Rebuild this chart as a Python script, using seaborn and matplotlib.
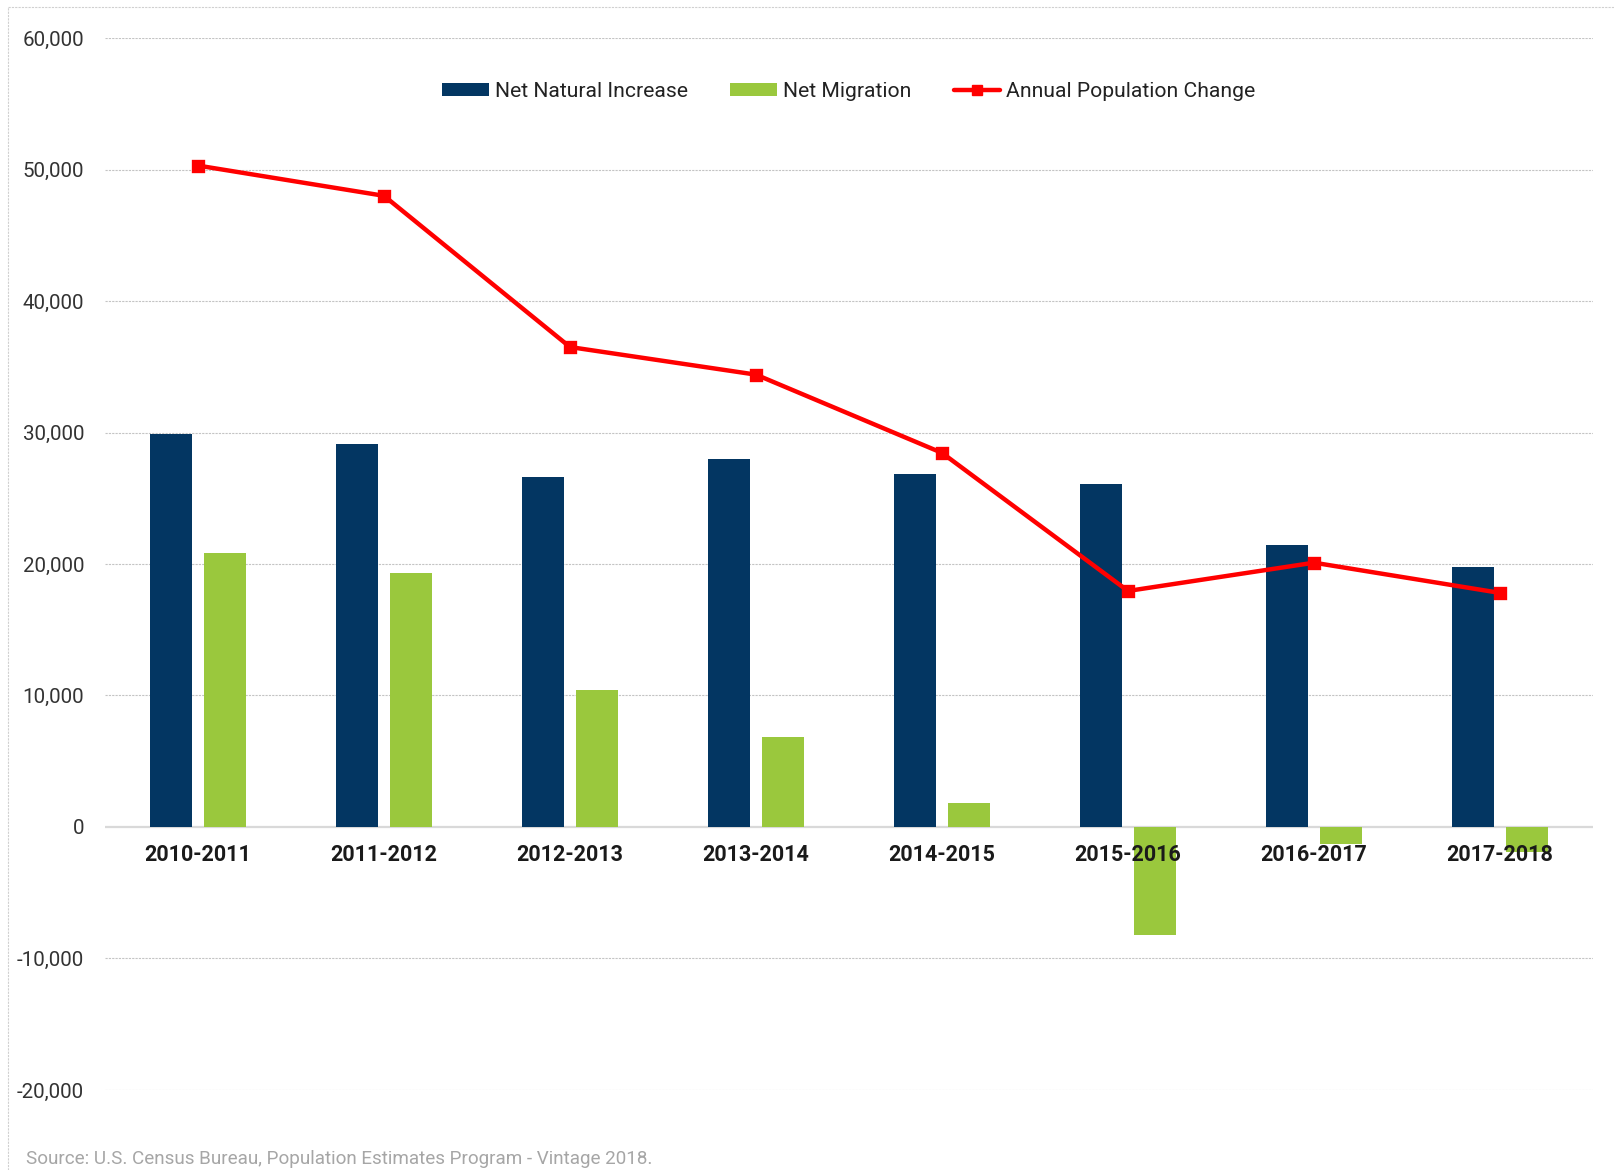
import matplotlib
matplotlib.use("Agg")
import matplotlib.pyplot as plt
from matplotlib.lines import Line2D
from matplotlib.patches import Patch
from matplotlib.ticker import FuncFormatter, MultipleLocator
import seaborn as sns
import pandas as pd

periods = ["2010-2011", "2011-2012", "2012-2013", "2013-2014",
           "2014-2015", "2015-2016", "2016-2017", "2017-2018"]
net_natural_increase = [29900, 29150, 26650, 27950, 26850, 26100, 21450, 19750]
net_migration = [20800, 19350, 10450, 6850, 1850, -8200, -1320, -1900]
annual_change = [50300, 48000, 36500, 34400, 28450, 17950, 20100, 17800]
series_names = ["Net Natural Increase", "Net Migration", "Annual Population Change"]
source_text = "Source: U.S. Census Bureau, Population Estimates Program - Vintage 2018."

NAVY = "#033662"
GREEN = "#9ac83d"
RED = "#ff0000"

sns.set_theme(style="white")
plt.rcParams["font.family"] = ["Roboto", "DejaVu Sans"]

bars = pd.DataFrame({
    "period": periods * 2,
    "value": net_natural_increase + net_migration,
    "series": [series_names[0]] * len(periods) + [series_names[1]] * len(periods),
})
line = pd.DataFrame({"period": periods, "value": annual_change})

fig = plt.figure(figsize=(16.15, 11.70), dpi=100)
ax = fig.add_axes([0.065, 0.0684, 0.9214, 0.8991])

sns.barplot(data=bars, x="period", y="value", hue="series", order=periods,
            hue_order=series_names[:2], palette=[NAVY, GREEN], saturation=1,
            width=0.576, gap=0.21, errorbar=None, legend=False, linewidth=0,
            ax=ax, zorder=1)
sns.pointplot(data=line, x="period", y="value", order=periods, color=RED,
              markers="s", linestyles="-", errorbar=None, markersize=7.5,
              linewidth=3.2, ax=ax)

ax.set_xlim(-0.5, 7.5)
ax.set_ylim(-20000, 60000)
ax.yaxis.set_major_locator(MultipleLocator(10000))
ax.yaxis.set_major_formatter(FuncFormatter(lambda v, p: f"{int(v):,}"))
ax.set_xlabel("")
ax.set_ylabel("")

ax.grid(False)
ax.set_axisbelow(False)
for yv in range(-20000, 60001, 10000):
    if yv == 0:
        ax.axhline(yv, color="#d9d9d9", lw=1.6, zorder=0.5)
    else:
        ax.axhline(yv, color="#c4c4c4", lw=0.8, ls=(0, (2, 1)), zorder=0.5)

for s in ["top", "right", "left"]:
    ax.spines[s].set_visible(False)
ax.spines["bottom"].set_position(("data", 0))
ax.spines["bottom"].set_visible(False)

ax.tick_params(axis="y", length=0, pad=15, labelsize=14.8, labelcolor="#333333")
ax.tick_params(axis="x", length=0, pad=12, labelsize=15.5, labelcolor="#1a1a1a")
for lab in ax.get_xticklabels():
    lab.set_fontweight("bold")

handles = [
    Patch(facecolor=NAVY, edgecolor="none"),
    Patch(facecolor=GREEN, edgecolor="none"),
    Line2D([], [], color=RED, lw=3.2, marker="s", markersize=7.5),
]
ax.legend(handles, series_names, loc="center", bbox_to_anchor=(0.5, 0.949),
          ncol=3, frameon=False, fontsize=15.2, handlelength=2.2,
          handleheight=0.6, handletextpad=0.3, columnspacing=2.0,
          labelcolor="#222222")

fig.text(26 / 1615, 1 - 1159 / 1170, source_text, fontsize=13.6,
         color="#a6a6a6", va="center", ha="left")

fig.add_artist(Line2D([8 / 1615, 8 / 1615], [0, 1 - 7 / 1170], color="#d0d0d0",
                      lw=0.8, ls=(0, (2, 1)), transform=fig.transFigure))
fig.add_artist(Line2D([8 / 1615, 1], [1 - 7 / 1170, 1 - 7 / 1170], color="#d0d0d0",
                      lw=0.8, ls=(0, (2, 1)), transform=fig.transFigure))

fig.savefig("out.png", dpi=100, facecolor="white")
